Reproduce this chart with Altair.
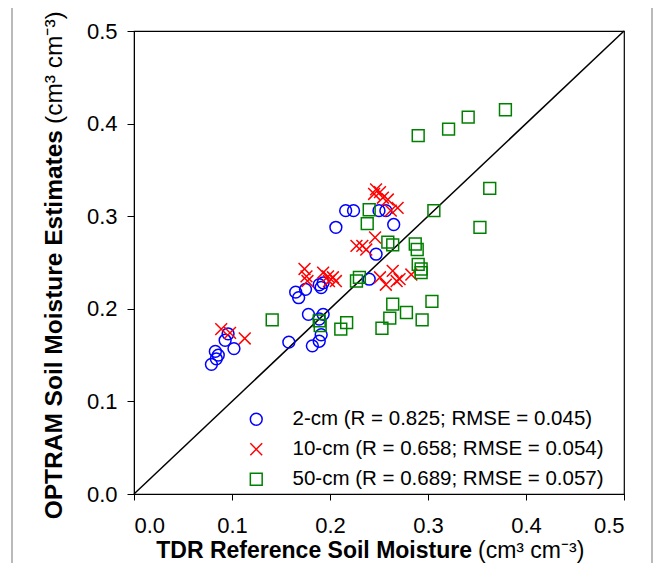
import altair as alt
import pandas as pd

series_names = [
    "2-cm (R = 0.825; RMSE = 0.045)",
    "10-cm (R = 0.658; RMSE = 0.054)",
    "50-cm (R = 0.689; RMSE = 0.057)",
]
series_colors = ["#0000ff", "#ff0000", "#008000"]
series_shapes = ["circle", "M-1,-1L1,1M-1,1L1,-1", "square"]

tdr_2cm = [0.079, 0.084, 0.086, 0.083, 0.102, 0.093, 0.096, 0.158, 0.182, 0.189,
           0.191, 0.189, 0.193, 0.178, 0.165, 0.168, 0.175, 0.189, 0.193, 0.191,
           0.240, 0.247, 0.206, 0.216, 0.224, 0.250, 0.257, 0.265]
opt_2cm = [0.140, 0.146, 0.150, 0.154, 0.157, 0.166, 0.173, 0.164, 0.160, 0.165,
           0.172, 0.189, 0.194, 0.194, 0.218, 0.212, 0.221, 0.226, 0.228, 0.223,
           0.232, 0.259, 0.288, 0.306, 0.306, 0.306, 0.306, 0.291]

tdr_10cm = [0.089, 0.098, 0.113, 0.174, 0.176, 0.177, 0.193, 0.198, 0.203, 0.206,
            0.199, 0.227, 0.233, 0.237, 0.246, 0.247, 0.251, 0.245, 0.254, 0.259,
            0.269, 0.262, 0.264, 0.257, 0.268, 0.271, 0.283, 0.251]
opt_10cm = [0.178, 0.174, 0.168, 0.243, 0.235, 0.230, 0.239, 0.235, 0.234, 0.230,
            0.230, 0.268, 0.268, 0.264, 0.277, 0.329, 0.326, 0.324, 0.320, 0.318,
            0.309, 0.306, 0.241, 0.226, 0.230, 0.232, 0.237, 0.234]

tdr_50cm = [0.141, 0.189, 0.190, 0.217, 0.211, 0.227, 0.230, 0.240, 0.238, 0.259,
            0.264, 0.287, 0.289, 0.290, 0.293, 0.293, 0.306, 0.264, 0.278, 0.304,
            0.261, 0.253, 0.294, 0.290, 0.321, 0.341, 0.379, 0.363, 0.353]
opt_50cm = [0.188, 0.187, 0.182, 0.185, 0.178, 0.230, 0.234, 0.307, 0.292, 0.272,
            0.269, 0.270, 0.264, 0.248, 0.243, 0.239, 0.306, 0.205, 0.196, 0.208,
            0.190, 0.179, 0.188, 0.387, 0.394, 0.407, 0.415, 0.330, 0.288]

tick_values = [0.0, 0.1, 0.2, 0.3, 0.4, 0.5]
one_to_one = [0.0, 0.5]

rows = []
for name, xs, ys in zip(series_names, [tdr_2cm, tdr_10cm, tdr_50cm], [opt_2cm, opt_10cm, opt_50cm]):
    for a, b in zip(xs, ys):
        rows.append({"tdr": a, "optram": b, "series": name})
df = pd.DataFrame(rows)
line_df = pd.DataFrame({"tdr": one_to_one, "optram": one_to_one})
one = pd.DataFrame({"k": [0]})

FONT = "Liberation Sans"

xscale = alt.Scale(domain=[0, 0.5], nice=False, zero=False)
yscale = alt.Scale(domain=[0, 0.5], nice=False, zero=False)

x_axis = alt.Axis(values=tick_values, format=".1f", title=None, grid=False,
                  tickSize=6, labelPadding=15, labelFontSize=22, labelFont=FONT,
                  labelColor="black", tickColor="black", domainColor="black")
y_axis = alt.Axis(values=tick_values, format=".1f", title=None, grid=False,
                  tickSize=7, labelPadding=10, labelFontSize=22, labelFont=FONT,
                  labelColor="black", tickColor="black", domainColor="black")

legend_opts = dict(title=None, orient="none", legendX=112, legendY=378,
                   labelFontSize=20.5, labelFont=FONT, labelColor="black",
                   labelLimit=0, labelOffset=26, rowPadding=9,
                   symbolSize=140, symbolStrokeWidth=1.5, padding=0)

border = alt.Chart(one).mark_rect(fillOpacity=0, stroke="#8c8c8c", strokeWidth=1.2).encode(
    x=alt.value(-122), x2=alt.value(518), y=alt.value(-24), y2=alt.value(620)
)

line = alt.Chart(line_df).mark_line(color="black", strokeWidth=1.5).encode(
    x=alt.X("tdr:Q", scale=xscale, axis=x_axis),
    y=alt.Y("optram:Q", scale=yscale, axis=y_axis),
)

points = alt.Chart(df).mark_point(filled=False, strokeWidth=1.5, size=140, opacity=1).encode(
    x=alt.X("tdr:Q", scale=xscale, axis=x_axis),
    y=alt.Y("optram:Q", scale=yscale, axis=y_axis),
    color=alt.Color("series:N", scale=alt.Scale(domain=series_names, range=series_colors),
                    legend=alt.Legend(**legend_opts)),
    shape=alt.Shape("series:N", scale=alt.Scale(domain=series_names, range=series_shapes),
                    legend=alt.Legend(**legend_opts)),
)

x_title_bold = alt.Chart(one).mark_text(text="TDR Reference Soil Moisture", font=FONT, fontSize=23,
                                        fontWeight="bold", align="right", baseline="alphabetic",
                                        color="black").encode(x=alt.value(338), y=alt.value(527))
x_title_unit = alt.Chart(one).mark_text(text="(cm³ cm⁻³)", font=FONT, fontSize=23,
                                        align="left", baseline="alphabetic",
                                        color="black").encode(x=alt.value(344), y=alt.value(527))
y_title_bold = alt.Chart(one).mark_text(text="OPTRAM Soil Moisture Estimates", font=FONT, fontSize=24.5,
                                        fontWeight="bold", align="right", baseline="alphabetic",
                                        angle=270, color="black").encode(x=alt.value(-72), y=alt.value(99))
y_title_unit = alt.Chart(one).mark_text(text="(cm³ cm⁻³)", font=FONT, fontSize=24.5,
                                        align="left", baseline="alphabetic",
                                        angle=270, color="black").encode(x=alt.value(-72), y=alt.value(93))

chart = alt.layer(border, line, points, x_title_bold, x_title_unit, y_title_bold, y_title_unit).properties(
    width=490, height=463,
    autosize=alt.AutoSizeParams(type="none"),
    padding={"left": 126, "top": 23, "right": 30, "bottom": 69},
    background="white",
).configure_view(stroke="black", strokeWidth=1.2)

chart.save("out.html", embed_options={"renderer": "svg", "actions": False})
